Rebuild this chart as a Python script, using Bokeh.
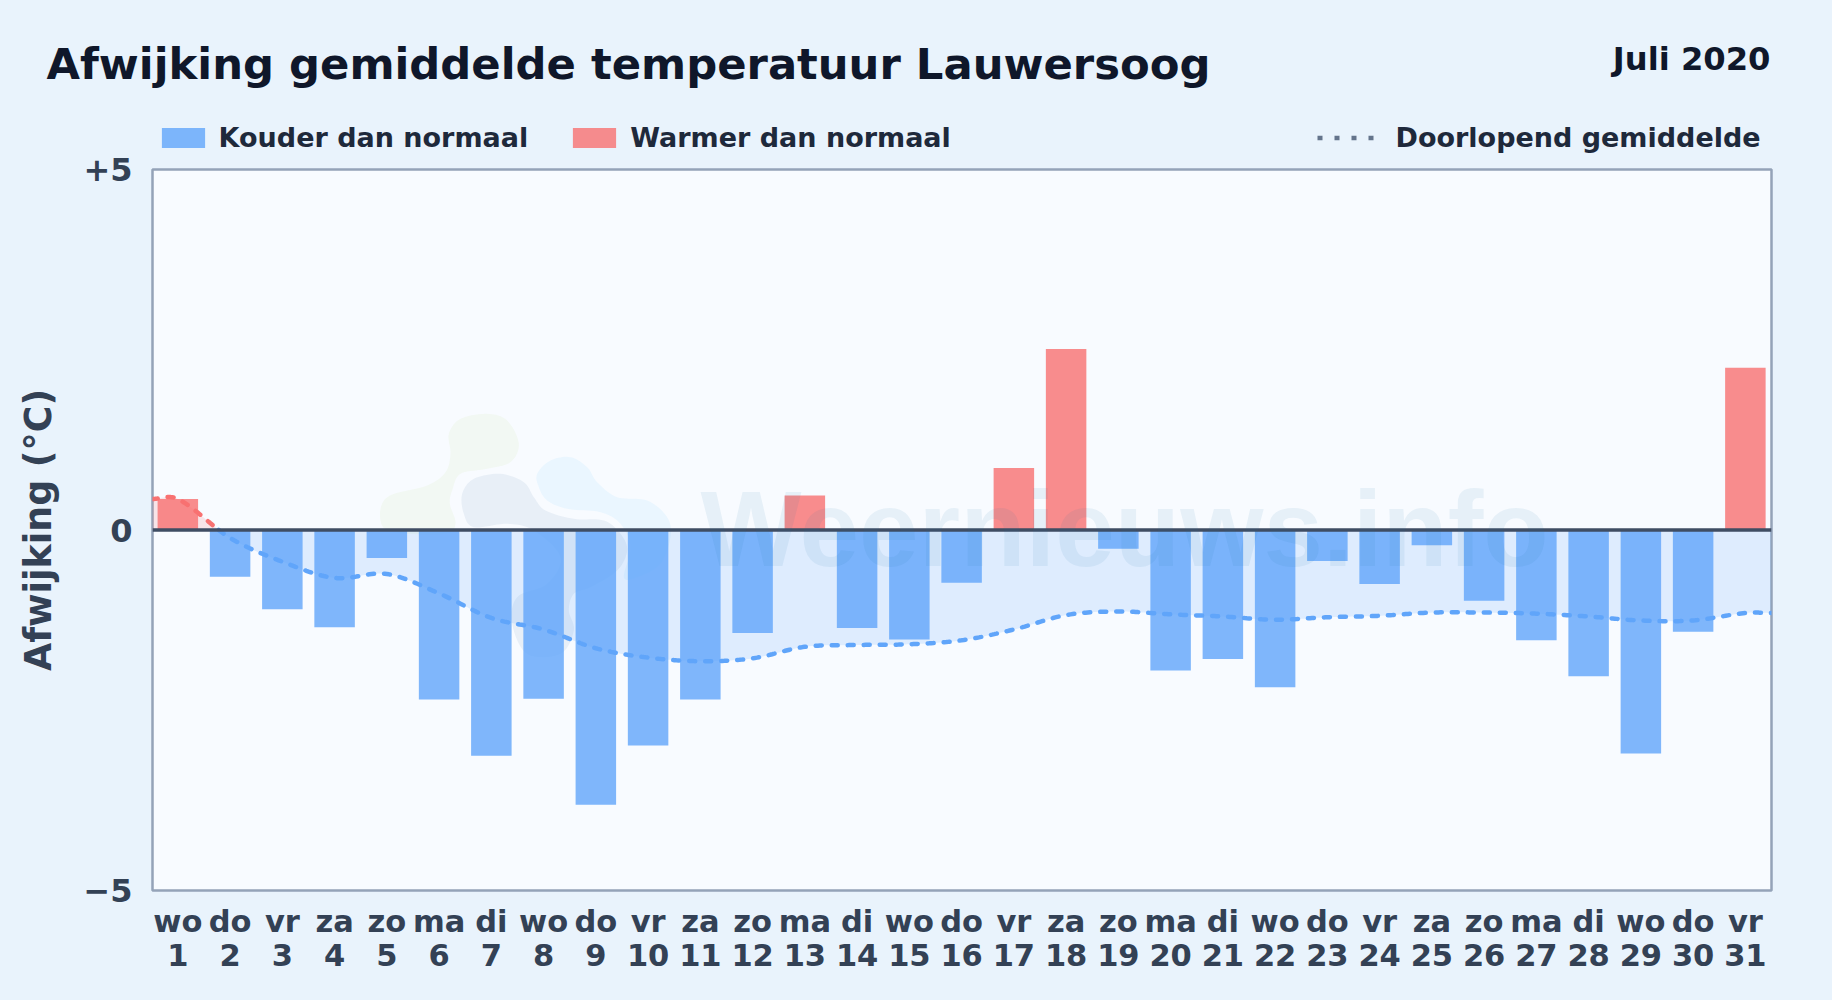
import numpy as np
from bokeh.embed import file_html
from bokeh.layouts import column, row
from bokeh.resources import INLINE
from bokeh.plotting import figure
from bokeh.models import (ColumnDataSource, FixedTicker, Label, Legend, LegendItem, LinearAxis,
                          PolyAnnotation, Span, Range1d)

days = list(range(1, 32))
weekdays = ["wo","do","vr","za","zo","ma","di","wo","do","vr","za","zo","ma","di","wo","do",
            "vr","za","zo","ma","di","wo","do","vr","za","zo","ma","di","wo","do","vr"]
deviation = [0.43,-0.65,-1.10,-1.35,-0.39,-2.35,-3.13,-2.34,-3.81,-2.99,-2.35,-1.43,0.48,-1.36,-1.52,-0.73,
             0.86,2.51,-0.26,-1.95,-1.79,-2.18,-0.43,-0.75,-0.21,-0.98,-1.53,-2.03,-3.10,-1.41,2.25]
running_mean = [0.43,-0.11,-0.44,-0.665,-0.61,-0.88,-1.22,-1.38,-1.64,-1.77,-1.82,-1.78,-1.62,-1.595,-1.585,-1.53,
                -1.38,-1.18,-1.13,-1.17,-1.20,-1.245,-1.21,-1.19,-1.145,-1.145,-1.16,-1.20,-1.255,-1.255,-1.15]
title_text = "Afwijking gemiddelde temperatuur Lauwersoog"
period_text = "Juli 2020"
watermark_text = "Weernieuws.info"
FONT = "DejaVu Sans"
BG = "#e9f3fc"
DARK = "#334155"
BLUE = "#60a5fa"
RED = "#f87171"

WIDTH, HEIGHT, HEAD, OVERLAP = 1832, 1000, 156, 12
L, R, T, B, Z = 152, 1771, 169, 890, 529.5
X0 = 0.515
def dx(px): return X0 + (px - L) / ((R - L) / (31.5 - X0))
def dy(py): return (Z - py) / ((B - T) / 10)

# header strip: title, period and legends
head = figure(width=WIDTH, height=HEAD, output_backend="svg", toolbar_location=None,
              x_range=Range1d(0, WIDTH), y_range=Range1d(HEAD, 0), x_axis_type=None, y_axis_type=None,
              min_border=0, background_fill_color=BG, border_fill_color=BG, outline_line_color=None)
head.grid.visible = False
head.add_layout(Label(x=46, y=63, text=title_text, text_font=FONT, text_font_style="bold",
                      text_font_size="43.3px", text_color="#0f172a", text_baseline="alphabetic"))
head.add_layout(Label(x=1770, y=58, text=period_text, text_font=FONT, text_font_style="bold",
                      text_font_size="32.2px", text_color="#0f172a", text_align="right", text_baseline="alphabetic"))
# keys for the legends; they lie outside the visible range of the strip
k_cold = head.vbar(x=[-100], top=[-100], width=1, fill_color=BLUE, fill_alpha=0.8, line_color=None)
k_warm = head.vbar(x=[-100], top=[-100], width=1, fill_color=RED, fill_alpha=0.8, line_color=None)
k_avg = head.line([-100, -90], [-100, -100], line_color="#64748b", line_width=4.5, line_dash="5 12")

def style(lg):
    lg.border_line_color = None
    lg.background_fill_alpha = 0
    lg.padding = 0
    lg.margin = 0
    lg.label_text_font = FONT
    lg.label_text_font_style = "bold"
    lg.label_text_font_size = "27px"
    lg.label_text_color = "#1e293b"
    lg.label_height = 25

lg1 = Legend(items=[LegendItem(label="Kouder dan normaal", renderers=[k_cold]),
                    LegendItem(label="Warmer dan normaal", renderers=[k_warm])],
             orientation="horizontal", location=(155.6, HEAD - 153), glyph_width=54, glyph_height=25,
             label_standoff=9, spacing=39)
style(lg1)
lg2 = Legend(items=[LegendItem(label="Doorlopend gemiddelde", renderers=[k_avg])],
             orientation="horizontal", location=(1316.5, HEAD - 153), glyph_width=58, glyph_height=25,
             label_standoff=21)
style(lg2)
head.add_layout(lg1)
head.add_layout(lg2)

# chart; its transparent top border lies over the lower edge of the header strip
p = figure(width=WIDTH, height=HEIGHT - HEAD + OVERLAP, output_backend="svg", toolbar_location=None,
           x_range=Range1d(X0, 31.5), y_range=Range1d(-5, 5),
           min_border_left=L, min_border_right=WIDTH - R,
           min_border_top=T - HEAD + OVERLAP, min_border_bottom=HEIGHT - B,
           background_fill_color="#f8fbff", border_fill_color=None,
           outline_line_color="#94a3b8", outline_line_width=2.5)
p.margin = (-OVERLAP, 0, 0, 0)
p.grid.visible = False

# smooth curve through the running mean, for drawing only
xk = np.array([0.5] + days + [31.5], dtype=float)
yk = np.array([running_mean[0]] + running_mean + [running_mean[-1]], dtype=float)
xs, ys = [], []
for i in range(len(xk) - 1):
    m0 = (yk[i+1] - yk[max(i-1, 0)]) / (xk[i+1] - xk[max(i-1, 0)])
    m1 = (yk[min(i+2, len(xk)-1)] - yk[i]) / (xk[min(i+2, len(xk)-1)] - xk[i])
    h = xk[i+1] - xk[i]
    for t in np.linspace(0, 1, 24, endpoint=False):
        h00 = 2*t**3 - 3*t**2 + 1; h10 = t**3 - 2*t**2 + t
        h01 = -2*t**3 + 3*t**2; h11 = t**3 - t**2
        xs.append(xk[i] + t*h)
        ys.append(h00*yk[i] + h10*h*m0 + h01*yk[i+1] + h11*h*m1)
xs.append(xk[-1]); ys.append(yk[-1])
xs, ys = np.array(xs), np.array(ys)
cross = np.argmax(ys < 0)
x0 = xs[cross-1] + (xs[cross]-xs[cross-1]) * ys[cross-1] / (ys[cross-1]-ys[cross])
xpos = np.append(xs[:cross], x0); ypos = np.append(ys[:cross], 0.0)
xneg = np.insert(xs[cross:], 0, x0); yneg = np.insert(ys[cross:], 0, 0.0)

p.varea(x=xpos, y1=ypos, y2=np.zeros_like(xpos), fill_color=RED, fill_alpha=0.16)
p.varea(x=xneg, y1=yneg, y2=np.zeros_like(xneg), fill_color=BLUE, fill_alpha=0.17)

cold = ColumnDataSource(dict(x=[d for d, v in zip(days, deviation) if v < 0],
                             top=[v for v in deviation if v < 0]))
warm = ColumnDataSource(dict(x=[d for d, v in zip(days, deviation) if v >= 0],
                             top=[v for v in deviation if v >= 0]))
p.vbar(x="x", top="top", bottom=0, width=0.775, source=cold, fill_color=BLUE, fill_alpha=0.8, line_color=None)
p.vbar(x="x", top="top", bottom=0, width=0.775, source=warm, fill_color=RED, fill_alpha=0.8, line_color=None)
p.add_layout(Span(location=0, dimension="width", line_color="#3f4d63", line_width=3.5))

p.line(xpos, ypos, line_color=RED, line_width=4.5, line_dash="6 10", line_cap="round")
p.line(xneg, yneg, line_color=BLUE, line_width=4.5, line_dash="6 10", line_cap="round")

# watermark
def blob(pts):
    a = np.array(pts, dtype=float)
    n = len(a); out = []
    for i in range(n):
        p0, p1, p2, p3 = a[(i-1) % n], a[i], a[(i+1) % n], a[(i+2) % n]
        for t in np.linspace(0, 1, 10, endpoint=False):
            out.append(0.5*((2*p1) + (-p0+p2)*t + (2*p0-5*p1+4*p2-p3)*t**2 + (-p0+3*p1-3*p2+p3)*t**3))
    out = np.array(out)
    return dx(out[:, 0]/3 + 360), dy(out[:, 1]/3 + 390)

green = [(265,130),(300,85),(380,70),(440,90),(475,160),(450,215),(380,235),(300,250),(275,300),(268,340),
         (285,400),(250,430),(100,425),(60,390),(80,320),(200,285),(255,245),(270,190)]
grey = [(305,310),(340,265),(420,250),(490,275),(520,320),(555,360),(640,385),(730,390),(780,430),(800,480),
        (770,540),(690,590),(640,610),(625,660),(640,720),(600,790),(500,790),(455,700),(470,620),(560,580),
        (600,500),(520,420),(440,400),(340,410),(310,370)]
sky = [(530,250),(570,210),(630,200),(680,230),(710,275),(770,320),(860,330),(920,380),(930,440),(900,520),
       (830,560),(790,560),(810,470),(780,400),(720,365),(620,355),(560,330),(535,290)]
for pts, col, al in [(green, "#84cc16", 0.05), (grey, "#1e5a8a", 0.07), (sky, "#38bdf8", 0.07)]:
    bx, by = blob(pts)
    p.add_layout(PolyAnnotation(xs=list(bx), ys=list(by), fill_color=col, fill_alpha=al, line_color=None, level="underlay"))
p.add_layout(Label(x=dx(700), y=dy(528), text=watermark_text, text_font="Liberation Sans", text_font_style="bold",
                   text_font_size="107px", text_color="#1772a8", text_alpha=0.08, text_baseline="alphabetic"))

# axes
p.xaxis.ticker = FixedTicker(ticks=days)
p.xaxis.major_label_overrides = {d: w for d, w in zip(days, weekdays)}
day_axis = LinearAxis(ticker=FixedTicker(ticks=days), major_label_overrides={d: str(d) for d in days})
p.add_layout(day_axis, "below")
p.yaxis.ticker = FixedTicker(ticks=[-5, 0, 5])
p.yaxis.major_label_overrides = {5: "+5", 0: "0", -5: "\u22125"}
for ax in (p.xaxis[0], day_axis, p.yaxis[0]):
    ax.axis_line_color = None
    ax.major_tick_line_color = None
    ax.minor_tick_line_color = None
    ax.major_label_text_font = FONT
    ax.major_label_text_font_style = "bold"
    ax.major_label_text_color = DARK
p.xaxis.major_label_text_font_size = "30.5px"
p.yaxis.major_label_text_font_size = "32px"
p.xaxis[0].major_label_standoff = 7
day_axis.major_label_standoff = -4
p.yaxis.major_label_standoff = 14
p.yaxis.axis_label = "Afwijking (\u00b0C)"
p.yaxis.axis_label_text_font = FONT
p.yaxis.axis_label_text_font_style = "bold"
p.yaxis.axis_label_text_font_size = "36.4px"
p.yaxis.axis_label_text_color = DARK
p.yaxis.axis_label_standoff = 20

page = column(row(head), row(p), spacing=0)
html = file_html(page, INLINE)
html = html.replace("<head>", f"<head><style>html,body{{background:{BG};}}</style>", 1)
open("out.html", "w").write(html)
